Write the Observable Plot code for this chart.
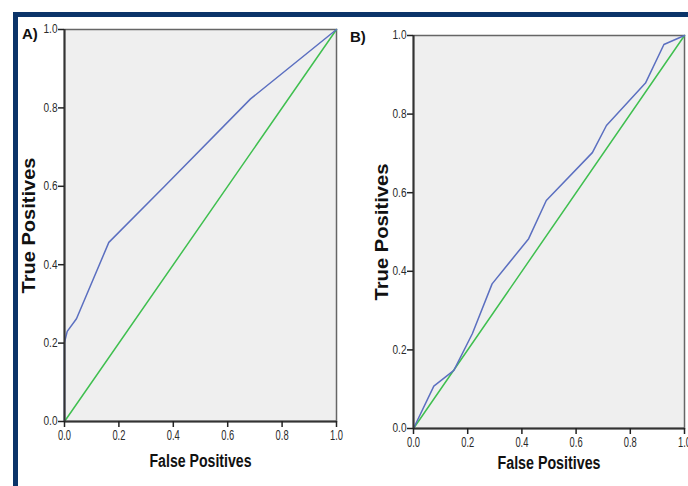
<!DOCTYPE html>
<html>
<head>
<meta charset="utf-8">
<script src="https://cdn.jsdelivr.net/npm/d3@7"></script>
<script src="https://cdn.jsdelivr.net/npm/@observablehq/plot@0.6"></script>
<style>
  html, body { margin: 0; padding: 0; background: #fff; overflow: hidden; }
  #wrap { position: relative; width: 688px; height: 486px; overflow: hidden; }
  .band { position: absolute; background: #0b3469; }
  .panel { position: absolute; top: 0; }
  .tag { position: absolute; font-family: "Liberation Sans", Arial, sans-serif; font-weight: bold; font-size: 15px; color: #111; }
</style>
</head>
<body>
<div id="wrap">
  <div class="band" style="left:13px;top:12px;width:675px;height:5px"></div>
  <div class="band" style="left:13px;top:12px;width:5px;height:474px"></div>
  <div class="panel" id="pa" style="left:0px"></div>
  <div class="panel" id="pb" style="left:350px"></div>
  <div class="tag" style="left:22px;top:25px">A)</div>
  <div class="tag" style="left:350px;top:28px">B)</div>
</div>
<script>
// Panel A ROC curve
const fprA = [0, 0, 0.01, 0.044, 0.163, 0.368, 0.684, 1];
const tprA = [0, 0.202, 0.23, 0.262, 0.457, 0.6, 0.823, 1];
// Panel B ROC curve
const fprB = [0, 0.075, 0.149, 0.217, 0.29, 0.425, 0.49, 0.66, 0.712, 0.856, 0.924, 1];
const tprB = [0, 0.108, 0.148, 0.241, 0.368, 0.483, 0.58, 0.702, 0.771, 0.879, 0.977, 1];
// Reference diagonal
const refX = [0, 1];
const refY = [0, 1];
// Ticks and labels
const tickVals = [0, 0.2, 0.4, 0.6, 0.8, 1.0];
const xTitle = "False Positives";
const yTitle = "True Positives";

const FONT = '"Liberation Sans", Arial, sans-serif';

function condense(t, len, size) {
  if (size) { t.setAttribute("font-size", size); t.style.fontSize = size + "px"; }
  t.setAttribute("textLength", len);
  t.setAttribute("lengthAdjust", "spacingAndGlyphs");
}

function panel(fpr, tpr, cfg) {
  const curve = fpr.map((x, i) => ({x, y: tpr[i]}));
  const diag = refX.map((x, i) => ({x, y: refY[i]}));
  const svg = Plot.plot({
    width: cfg.width,
    height: cfg.height,
    marginLeft: cfg.ml,
    marginRight: cfg.mr,
    marginTop: cfg.mt,
    marginBottom: cfg.mb,
    style: {fontFamily: FONT, fontSize: "11.5px", background: "transparent", overflow: "visible", color: "#222"},
    x: {domain: [0, 1], axis: null},
    y: {domain: [0, 1], axis: null},
    marks: [
      Plot.frame({fill: "#efefef", stroke: "#666", strokeWidth: 1.5}),
      Plot.line(diag, {x: "x", y: "y", stroke: "#3fbf4f", strokeWidth: 1.5}),
      Plot.line(curve, {x: "x", y: "y", stroke: "#5b6fc0", strokeWidth: 1.5}),
      Plot.ruleY([0], {stroke: "#333", strokeWidth: 2}),
      Plot.ruleX([0], {stroke: "#333", strokeWidth: 2}),
      Plot.axisX({ticks: tickVals, tickFormat: d3.format(".1f"), tickSize: 6, tickPadding: 2, label: null, strokeWidth: 1.5}),
      Plot.axisY({ticks: tickVals, tickFormat: d3.format(".1f"), tickSize: 6, tickPadding: 1, label: null, strokeWidth: 1.5}),
      Plot.text([xTitle], {frameAnchor: "bottom", dy: cfg.xdy, text: d => d, fontWeight: "bold", fontSize: 18, fill: "#111"}),
      Plot.text([yTitle], {frameAnchor: "left", dx: cfg.ydx, rotate: -90, text: d => d, fontWeight: "bold", fontSize: 18, fill: "#111"})
    ]
  });
  const fmt = d3.format(".1f");
  const tickTexts = new Set(tickVals.map(fmt));
  svg.querySelectorAll("text").forEach(t => {
    const s = t.textContent;
    if (s === xTitle) condense(t, cfg.xlen);
    else if (s === yTitle) {
      condense(t, cfg.ylen);
      t.setAttribute("text-anchor", "start");
      t.style.textAnchor = "start";
      const x0 = +(t.getAttribute("x") || 0);
      t.setAttribute("x", x0 - cfg.ylen / 2);
    } else if (tickTexts.has(s)) {
      const g = t.closest("g[aria-label]");
      const lab = g ? g.getAttribute("aria-label") : "";
      t.setAttribute("fill", "#2a2a2a");
      if (lab.startsWith("x-axis")) condense(t, 13, 15);
      else if (lab.startsWith("y-axis")) condense(t, 14, 12);
    }
  });
  return svg;
}

document.getElementById("pa").appendChild(panel(fprA, tprA, {width: 344, height: 450, ml: 64, mr: 8, mt: 29, mb: 29, xdy: 45, ydx: -35, xlen: 102, ylen: 136}));
document.getElementById("pb").appendChild(panel(fprB, tprB, {width: 338, height: 458, ml: 63, mr: 4, mt: 35, mb: 30, xdy: 40, ydx: -31, xlen: 103, ylen: 137}));
</script>
</body>
</html>
